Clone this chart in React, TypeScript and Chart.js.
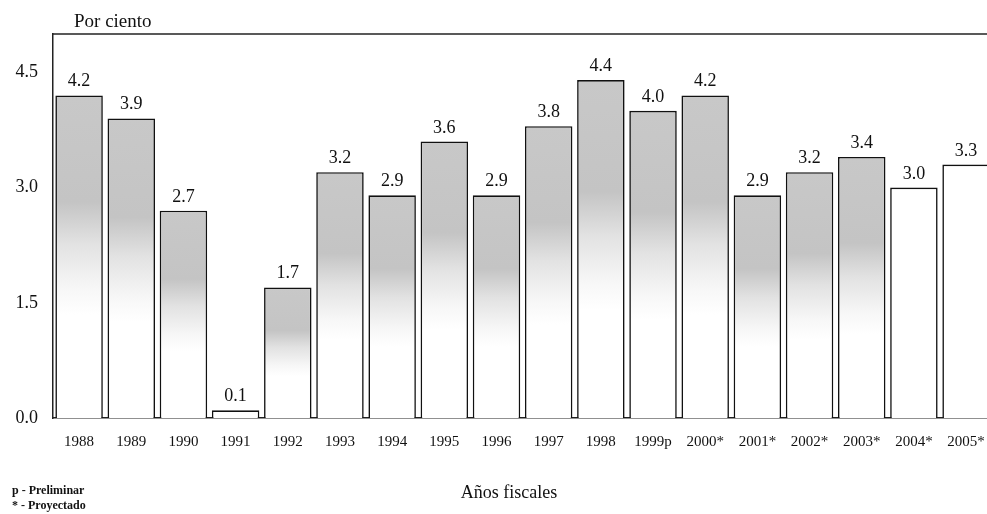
import React, { useEffect, useRef } from "react";
import { Chart, registerables } from "chart.js";

Chart.register(...registerables);

const categories = ["1988", "1989", "1990", "1991", "1992", "1993", "1994", "1995", "1996", "1997", "1998", "1999p", "2000*", "2001*", "2002*", "2003*", "2004*", "2005*"];
const values = [4.2, 3.9, 2.7, 0.1, 1.7, 3.2, 2.9, 3.6, 2.9, 3.8, 4.4, 4.0, 4.2, 2.9, 3.2, 3.4, 3.0, 3.3];
const shaded = [true, true, true, false, true, true, true, true, true, true, true, true, true, true, true, true, false, false];
const yTicks = [0, 1.5, 3.0, 4.5];
const yTitle = "Por ciento";
const xTitle = "Años fiscales";
const notes = ["p - Preliminar", "* - Proyectado"];

const SERIF = "'Liberation Serif', 'Times New Roman', serif";

export default function App() {
  const ref = useRef<HTMLCanvasElement | null>(null);
  useEffect(() => {
    if (!ref.current) return;
    const textPlugin = {
      id: "texts",
      afterDraw(chart: any) {
        const ctx = chart.ctx;
        const area = chart.chartArea;
        ctx.save();
        ctx.strokeStyle = "#222";
        ctx.lineWidth = 1.5;
        ctx.beginPath();
        ctx.moveTo(area.left, area.top);
        ctx.lineTo(chart.width, area.top);
        ctx.stroke();
        const meta = chart.getDatasetMeta(0);
        ctx.fillStyle = "#111";
        ctx.font = `18px ${SERIF}`;
        ctx.textAlign = "center";
        ctx.textBaseline = "alphabetic";
        meta.data.forEach((el: any, i: number) => {
          ctx.fillText(values[i].toFixed(1), el.x, el.y - 9);
        });
        ctx.textAlign = "left";
        ctx.font = `19px ${SERIF}`;
        ctx.fillText(yTitle, 74, 27);
        ctx.textAlign = "center";
        ctx.font = `18px ${SERIF}`;
        ctx.fillText(xTitle, 509, 498);
        ctx.textAlign = "left";
        ctx.font = `bold 12px ${SERIF}`;
        ctx.fillText(notes[0], 12, 494);
        ctx.fillText(notes[1], 12, 509);
        ctx.restore();
      },
    };
    const chart = new Chart(ref.current, {
      type: "bar",
      data: {
        labels: categories,
        datasets: [
          {
            data: values,
            borderColor: "#111",
            borderWidth: 1.6,
            barPercentage: 0.91,
            categoryPercentage: 1,
            backgroundColor: (c: any) => {
              const i = c.dataIndex;
              if (!shaded[i]) return "#ffffff";
              const chart = c.chart;
              const y = chart.scales && chart.scales.y;
              if (!y || !chart.chartArea) return "#cccccc";
              const top = y.getPixelForValue(values[i]);
              const bottom = y.getPixelForValue(0);
              const g = chart.ctx.createLinearGradient(0, top, 0, bottom);
              g.addColorStop(0, "rgb(200,200,200)");
              g.addColorStop(0.33, "rgb(196,196,196)");
              g.addColorStop(0.46, "rgb(226,226,226)");
              g.addColorStop(0.6, "rgb(247,247,247)");
              g.addColorStop(0.68, "rgb(255,255,255)");
              g.addColorStop(1, "rgb(255,255,255)");
              return g;
            },
          },
        ],
      },
      options: {
        animation: false,
        responsive: false,
        maintainAspectRatio: false,
        layout: { padding: { top: 34, left: 0, right: 6, bottom: 0 } },
        plugins: { legend: { display: false }, tooltip: { enabled: false }, title: { display: false } },
        scales: {
          x: {
            grid: { display: false, drawTicks: false },
            border: { display: true, color: "#222", width: 1.5 },
            ticks: { color: "#111", font: { family: SERIF, size: 15 }, padding: 15, maxRotation: 0, autoSkip: false },
            afterFit: (s: any) => { s.height = 96; },
          },
          y: {
            min: 0,
            max: 5,
            grid: { display: false, drawTicks: false },
            border: { display: true, color: "#222", width: 1.5 },
            afterBuildTicks: (s: any) => { s.ticks = yTicks.map((v) => ({ value: v })); },
            ticks: {
              color: "#111",
              font: { family: SERIF, size: 18 },
              padding: 15,
              callback: (v: any) => Number(v).toFixed(1),
            },
            afterFit: (s: any) => { s.width = 53; },
          },
        },
      },
      plugins: [textPlugin],
    });
    return () => chart.destroy();
  }, []);
  return (
    <div style={{ position: "absolute", left: 0, top: 0, width: 987, height: 514, overflow: "hidden", background: "#fff" }}>
      <canvas ref={ref} width={1000} height={514} style={{ display: "block", width: 1000, height: 514 }} />
    </div>
  );
}
